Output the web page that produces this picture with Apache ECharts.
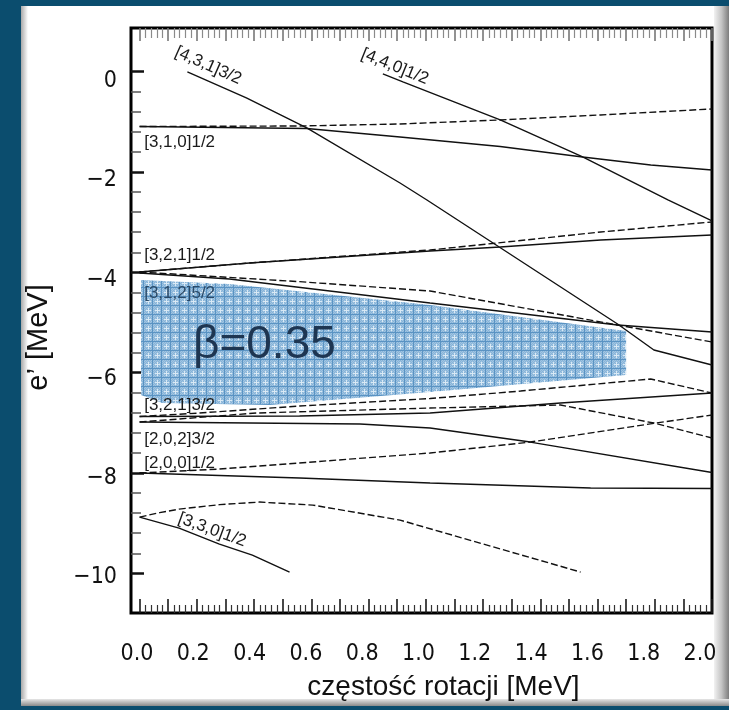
<!DOCTYPE html>
<html>
<head>
<meta charset="utf-8">
<script src="https://cdn.jsdelivr.net/npm/echarts@6/dist/echarts.min.js"></script>
<style>
  html, body { margin: 0; padding: 0; background: #0b4d6e; }
  #chart { width: 729px; height: 710px; }
</style>
</head>
<body>
<div id="chart"></div>
<script>
// Routhians e' (MeV) against rotational frequency (MeV), deformation beta = 0.35.
// Each branch is a list of [frequency, energy] points; solid / dashed = the two signature partners.

const n431_32_solid = [[0.167, -0.006], [0.373, -0.524], [0.584, -1.122], [0.910, -2.219], [1.004, -2.558], [1.670, -5.030], [1.797, -5.548], [2.0, -5.847]];
const n440_12_solid = [[0.850, -0.046], [0.920, -0.205], [1.260, -0.963], [1.548, -1.700], [1.846, -2.558], [2.0, -2.976]];

const n310_12_solid  = [[0, -1.093], [0.584, -1.132], [0.910, -1.302], [1.260, -1.491], [1.548, -1.700], [1.786, -1.860], [2.0, -1.960]];
const n310_12_dashed = [[0, -1.093], [0.559, -1.083], [0.910, -1.043], [1.260, -0.963], [1.611, -0.863], [2.0, -0.744]];

const n321_12_solid     = [[0, -3.993], [0.384, -3.814], [1.015, -3.574], [1.260, -3.495], [1.611, -3.355], [2.0, -3.255]];
const n321_12_dashed_up = [[0, -3.993], [0.384, -3.814], [1.015, -3.555], [1.250, -3.415], [1.611, -3.196], [2.0, -2.996]];
const n321_12_dashed_dn = [[0, -3.993], [0.559, -4.186], [1.015, -4.372], [1.670, -5.050], [2.0, -5.389]];

const n312_52_solid = [[0, -4.013], [0.314, -4.133], [1.015, -4.612], [1.670, -5.050], [2.0, -5.190]];

const n321_32_solid  = [[0, -6.874], [0.559, -6.864], [1.015, -6.804], [1.471, -6.605], [2.0, -6.406]];
const n321_32_dashed = [[0, -6.874], [0.209, -6.804], [0.559, -6.665], [1.015, -6.515], [1.331, -6.366], [1.786, -6.126], [2.0, -6.406]];

const n202_32_solid  = [[0, -6.984], [0.770, -7.024], [1.015, -7.104], [1.365, -7.383], [2.0, -7.990]];
const n202_32_dashed = [[0, -6.984], [0.408, -6.804], [1.015, -6.705], [1.471, -6.645], [1.797, -7.004], [2.0, -7.303]];

const n200_12_solid  = [[0, -8.0], [0.559, -8.1], [1.015, -8.2], [1.576, -8.3], [2.0, -8.31]];
const n200_12_dashed = [[0, -8.0], [0.279, -7.921], [1.015, -7.601], [1.365, -7.383], [1.804, -7.004], [2.0, -6.844]];

const n330_12_solid  = [[0, -8.878], [0.138, -9.097], [0.279, -9.416], [0.394, -9.636], [0.524, -9.974]];
const n330_12_dashed = [[0, -8.878], [0.07, -8.790], [0.138, -8.719], [0.28, -8.630], [0.419, -8.579], [0.605, -8.639], [0.910, -8.938], [1.541, -9.974]];

// outline of the shaded gap region (frequency, energy)
const gapOmega  = [0.005, 0.314, 1.015, 1.700, 1.700, 1.015, 0.454, 0.079, 0.005];
const gapEnergy = [-4.153, -4.233, -4.652, -5.169, -6.047, -6.385, -6.645, -6.605, -6.446];

// axis ticks and labels
const xTickLabels = [0, 0.2, 0.4, 0.6, 0.8, 1.0, 1.2, 1.4, 1.6, 1.8, 2.0];
const yTickLabels = [0, -2, -4, -6, -8, -10];

const branches = [
  { data: n431_32_solid,     dash: false },
  { data: n440_12_solid,     dash: false },
  { data: n310_12_solid,     dash: false },
  { data: n310_12_dashed,    dash: true },
  { data: n321_12_solid,     dash: false },
  { data: n321_12_dashed_up, dash: true },
  { data: n321_12_dashed_dn, dash: true },
  { data: n312_52_solid,     dash: false },
  { data: n321_32_solid,     dash: false },
  { data: n321_32_dashed,    dash: true },
  { data: n202_32_solid,     dash: false },
  { data: n202_32_dashed,    dash: true },
  { data: n200_12_solid,     dash: false },
  { data: n200_12_dashed,    dash: true },
  { data: n330_12_solid,     dash: false },
  { data: n330_12_dashed,    dash: true }
];

// orbital tags, anchored in data coordinates
const tags = [
  { text: '[4,3,1]3/2', at: [0.240, 0.120],  rot: -24, align: 'center' },
  { text: '[4,4,0]1/2', at: [0.892, 0.100],  rot: -22, align: 'center' },
  { text: '[3,1,0]1/2', at: [0.016, -1.403], rot: 0,   align: 'left' },
  { text: '[3,2,1]1/2', at: [0.016, -3.654], rot: 0,   align: 'left' },
  { text: '[3,1,2]5/2', at: [0.016, -4.412], rot: 0,   align: 'left', color: '#2b4a68' },
  { text: '[3,2,1]3/2', at: [0.016, -6.655], rot: 0,   align: 'left' },
  { text: '[2,0,2]3/2', at: [0.016, -7.323], rot: 0,   align: 'left' },
  { text: '[2,0,0]1/2', at: [0.016, -7.801], rot: 0,   align: 'left' },
  { text: '[3,3,0]1/2', at: [0.254, -9.137], rot: -20, align: 'center' },
  { text: 'β=0.35',     at: [0.436, -5.449], rot: 0,   align: 'center', size: 46, color: '#1e3652' }
];

const X_MIN = -0.03, X_MAX = 2.0;
const Y_MIN = -10.79, Y_MAX = 0.87;

function range(from, to, step) {
  const out = [];
  for (let k = 0; from + k * step <= to + 1e-9; k++) out.push(+(from + k * step).toFixed(4));
  return out;
}
const xMajor = range(0, 2.0, 0.1);
const xMinor = range(0, 2.0, 0.02).filter(v => Math.abs(v * 10 - Math.round(v * 10)) > 1e-6);
const yMinor = range(-10, 0, 0.4).filter(v => Math.abs(v / 2 - Math.round(v / 2)) > 1e-6);

// cross-hatched fill for the gap region
function hatchPattern() {
  const c = document.createElement('canvas');
  c.width = 9; c.height = 9;
  const g = c.getContext('2d');
  g.fillStyle = '#a2c5e2';
  g.fillRect(0, 0, 9, 9);
  g.fillStyle = '#86b3d8';
  for (let y = 0; y < 8; y++) for (let x = 0; x < 8; x++) if ((x + y) % 2 === 0) g.fillRect(x, y, 1, 1);
  g.fillStyle = '#d9e9f5';
  g.fillRect(4, 2, 1, 5);
  g.fillRect(2, 4, 5, 1);
  g.fillStyle = '#5a93c3';
  g.fillRect(8, 0, 1, 9);
  g.fillRect(0, 8, 9, 1);
  return c;
}

const GRID = { left: 131, top: 28, width: 581, height: 585 };
const tickFont = "'Liberation Sans Narrow','DejaVu Sans Condensed','Liberation Sans',sans-serif";
const textFont = "'Liberation Sans',Arial,sans-serif";

function valueAxis(gridIndex, extra) {
  return Object.assign({
    type: 'value', gridIndex,
    axisLine: { show: false, onZero: false },
    splitLine: { show: false },
    axisLabel: { show: false },
    axisTick: { show: false }
  }, extra);
}
function ticks(values, length, color, width) {
  return { show: true, inside: true, customValues: values, length, lineStyle: { color, width } };
}

const grids = [0, 1, 2, 3, 4].map(i => Object.assign({}, GRID, i === 0
  ? { show: true, borderColor: '#000', borderWidth: 3, backgroundColor: '#fff' }
  : { show: false }));

const xAxes = [
  valueAxis(0, { min: X_MIN, max: X_MAX, position: 'bottom', axisTick: ticks(xMajor, 14, '#1a1a1a', 1.6),
    name: 'częstość rotacji [MeV]', nameLocation: 'middle', nameGap: 60,
    nameTextStyle: { fontFamily: textFont, fontSize: 28, color: '#111', padding: [0, 0, 0, 44] } }),
  valueAxis(1, { min: X_MIN, max: X_MAX, position: 'bottom', axisTick: ticks(xMinor, 8, '#333', 1.2) }),
  valueAxis(2, { min: X_MIN, max: X_MAX, position: 'top', axisTick: ticks(xMajor, 13, '#777', 1.6) }),
  valueAxis(3, { min: X_MIN, max: X_MAX, position: 'top', axisTick: ticks(xMinor, 10, '#8a8a8a', 1.2) }),
  // tick labels sit slightly off the tick marks
  valueAxis(4, { min: -0.0213, max: 2.0426, position: 'bottom',
    axisLabel: { show: true, customValues: xTickLabels, margin: 30, fontFamily: tickFont, fontSize: 23, color: '#111',
      formatter: v => v.toFixed(1) } })
];

const yAxes = [
  valueAxis(0, { min: Y_MIN, max: Y_MAX, position: 'left', axisTick: ticks(yTickLabels, 13, '#111', 2.5),
    name: 'e’ [MeV]', nameLocation: 'middle', nameGap: 78, nameRotate: 90,
    nameTextStyle: { fontFamily: textFont, fontSize: 29, color: '#111', padding: [0, 34, 0, 0] } }),
  valueAxis(1, { min: Y_MIN, max: Y_MAX, position: 'left', axisTick: ticks(yMinor, 10, '#555', 1.5) }),
  valueAxis(2, { min: -10.715, max: 1.067, position: 'left',
    axisLabel: { show: true, customValues: yTickLabels, margin: 14, fontFamily: tickFont, fontSize: 23, color: '#111',
      formatter: v => (v < 0 ? '\u2212' + Math.abs(v) : String(v)) } }),
  valueAxis(3, { min: Y_MIN, max: Y_MAX, position: 'left' }),
  valueAxis(4, { min: Y_MIN, max: Y_MAX, position: 'left' })
];

const gapSeries = {
  type: 'custom', xAxisIndex: 0, yAxisIndex: 0, silent: true, z: 1,
  data: [[gapOmega[0], gapEnergy[0]]],
  renderItem: (params, api) => ({
    type: 'polygon',
    shape: { points: gapOmega.map((x, i) => api.coord([x, gapEnergy[i]])) },
    style: { fill: { image: hatchPattern(), repeat: 'repeat' }, stroke: null }
  })
};

const lineSeries = branches.map(b => ({
  type: 'line', xAxisIndex: 0, yAxisIndex: 0, data: b.data,
  showSymbol: false, symbol: 'none', silent: true, z: 3,
  lineStyle: { color: '#111', width: 1.4, type: b.dash ? [7, 3] : 'solid' }
}));

const tagSeries = {
  type: 'custom', xAxisIndex: 0, yAxisIndex: 0, silent: true, z: 4,
  data: tags.map(t => t.at),
  renderItem: (params, api) => {
    const t = tags[params.dataIndex];
    const p = api.coord(t.at);
    return {
      type: 'text', x: p[0], y: p[1], rotation: t.rot * Math.PI / 180,
      style: { text: t.text, fill: t.color || '#1a1a1a', fontFamily: textFont, fontSize: t.size || 17,
        align: t.align, verticalAlign: 'middle' }
    };
  }
};

const chart = echarts.init(document.getElementById('chart'), null, { renderer: 'canvas' });
chart.setOption({
  backgroundColor: '#0b4d6e',
  animation: false,
  graphic: { elements: [
    { type: 'rect', z: -10, shape: { x: 21, y: 6, width: 708, height: 700 }, style: { fill: '#ffffff' } },
    { type: 'rect', z: -9, shape: { x: 21, y: 6, width: 7, height: 700 },
      style: { fill: new echarts.graphic.LinearGradient(0, 0, 1, 0, [{ offset: 0, color: '#a9a9a9' }, { offset: 1, color: '#ffffff' }]) } },
    { type: 'rect', z: -9, shape: { x: 714, y: 6, width: 15, height: 700 },
      style: { fill: new echarts.graphic.LinearGradient(0, 0, 1, 0, [{ offset: 0, color: '#f2f2f2' }, { offset: 0.5, color: '#c4c4c4' }, { offset: 1, color: '#7d7d7d' }]) } },
    { type: 'rect', z: -9, shape: { x: 21, y: 699, width: 708, height: 7 },
      style: { fill: new echarts.graphic.LinearGradient(0, 0, 0, 1, [{ offset: 0, color: '#e6e6e6' }, { offset: 1, color: '#8a8a8a' }]) } }
  ] },
  grid: grids,
  xAxis: xAxes,
  yAxis: yAxes,
  series: [gapSeries].concat(lineSeries, [tagSeries])
});
</script>
</body>
</html>
